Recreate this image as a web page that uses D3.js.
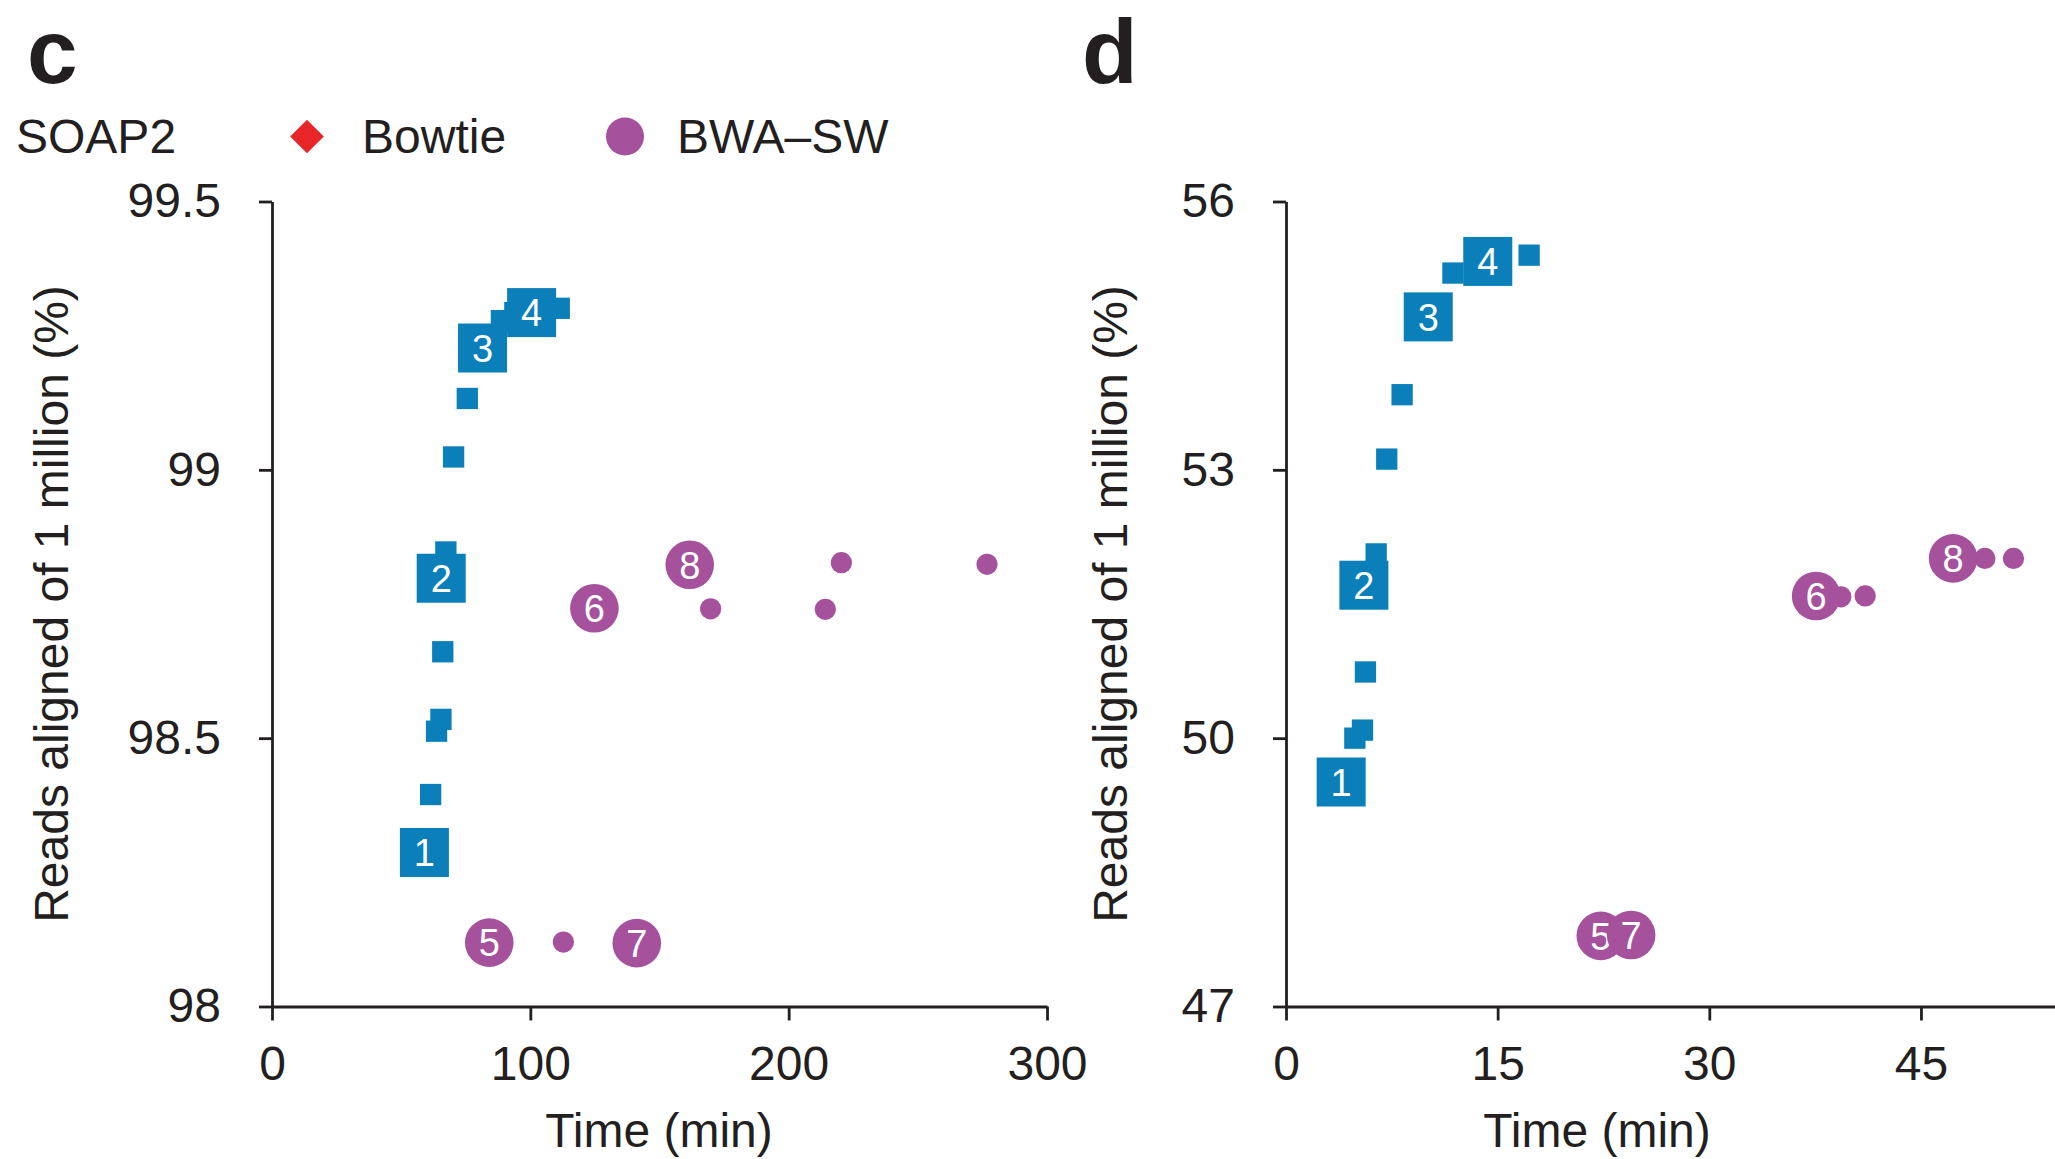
<!DOCTYPE html>
<html>
<head>
<meta charset="utf-8">
<script src="https://cdn.jsdelivr.net/npm/d3@7"></script>
<style>
  html, body { margin: 0; padding: 0; background: #fff; }
  svg { display: block; font-family: "Liberation Sans", Arial, Helvetica, sans-serif; }
</style>
</head>
<body>
<svg id="chart" width="2055" height="1159"></svg>
<script>
// ---- Panel c: reads aligned (%) vs. run time (min) ----
const cSoapTime = [59.0, 61.4, 63.7, 65.4, 66.1, 65.5, 67.3, 70.3, 75.6, 81.5, 88.8, 94.0, 100.5, 111.2];
const cSoapPct  = [98.287, 98.395, 98.513, 98.535, 98.661, 98.798, 98.847, 99.024, 99.133, 99.227, 99.278, 99.293, 99.293, 99.301];
const cSoapTag  = ["1", "", "", "", "", "2", "", "", "", "3", "", "", "4", ""];

const cBwaTime = [84.1, 112.8, 141.2, 124.8, 161.7, 169.8, 220.4, 214.2, 276.8];
const cBwaPct  = [98.119, 98.120, 98.118, 98.742, 98.823, 98.741, 98.827, 98.740, 98.824];
const cBwaTag  = ["5", "", "7", "6", "8", "", "", "", ""];

const cXTicks = [0, 100, 200, 300];
const cYTicks = [98, 98.5, 99, 99.5];
const cYTickLabels = ["98", "98.5", "99", "99.5"];

// ---- Panel d ----
const dSoapTime = [3.91, 4.88, 5.42, 5.63, 5.52, 6.39, 7.14, 8.23, 10.08, 11.83, 14.30, 17.23];
const dSoapPct  = [49.51, 50.00, 50.09, 50.74, 51.71, 52.06, 53.12, 53.84, 54.71, 55.20, 55.33, 55.40];
const dSoapTag  = ["1", "", "", "", "2", "", "", "", "3", "", "4", ""];

const dBwaTime = [22.31, 24.46, 37.57, 39.32, 41.05, 47.28, 49.53, 51.56];
const dBwaPct  = [47.79, 47.80, 51.59, 51.58, 51.59, 52.01, 52.01, 52.01];
const dBwaTag  = ["5", "7", "6", "", "", "8", "", ""];

const dXTicks = [0, 15, 30, 45];
const dYTicks = [47, 50, 53, 56];
const dYTickLabels = ["47", "50", "53", "56"];

// ---- Legend ----
const legendNames = ["SOAP2", "Bowtie", "BWA\u2013SW"];

// ---- Styling ----
const BLUE = "#0a7fb9";
const PURPLE = "#a5519b";
const RED = "#e8262a";
const INK = "#231f20";
const FONT = 48;
const BIG_SQ = 49, SMALL_SQ = 21.3;
const BIG_R = 24.3, SMALL_R = 10.6;

const svg = d3.select("#chart");

function drawPanel(cfg) {
  const x = d3.scaleLinear().domain(cfg.xDomain).range(cfg.xRange);
  const y = d3.scaleLinear().domain(cfg.yDomain).range([1006.5, 201.5]);
  const g = svg.append("g");

  // y axis
  const ya = g.append("g")
    .attr("transform", `translate(${cfg.xRange[0]},0)`)
    .call(d3.axisLeft(y).tickValues(cfg.yTicks)
      .tickFormat((d, i) => cfg.yTickLabels[i])
      .tickSize(13).tickPadding(38).tickSizeOuter(0));
  // x axis
  const xa = g.append("g")
    .attr("transform", `translate(0,${y(cfg.yDomain[0])})`)
    .call(d3.axisBottom(x).tickValues(cfg.xTicks)
      .tickFormat(d3.format("d"))
      .tickSize(14).tickSizeOuter(0));
  xa.selectAll(".tick text").attr("y", 73.5).attr("dy", null);

  [ya, xa].forEach(a => {
    a.selectAll("path, line").attr("stroke", INK).attr("stroke-width", 2.8);
    a.selectAll("text").attr("font-size", FONT).attr("fill", INK)
      .attr("font-family", "'Liberation Sans', Arial, sans-serif");
  });

  // axis titles
  g.append("text")
    .attr("transform", `translate(${cfg.yTitleX},${(y.range()[0] + y.range()[1]) / 2}) rotate(-90)`)
    .attr("text-anchor", "middle").attr("font-size", FONT).attr("fill", INK)
    .text("Reads aligned of 1 million (%)");
  g.append("text")
    .attr("x", cfg.xTitleX).attr("y", 1147)
    .attr("text-anchor", "middle").attr("font-size", FONT).attr("fill", INK)
    .text("Time (min)");

  // panel letter
  g.append("text")
    .attr("x", cfg.letterX).attr("y", 83)
    .attr("font-size", 91).attr("font-weight", "bold").attr("fill", INK)
    .text(cfg.letter);

  // SOAP2 squares: untagged first, tagged on top
  const soap = cfg.soapTime.map((t, i) => ({ t, v: cfg.soapPct[i], tag: cfg.soapTag[i] }));
  const soapOrdered = soap.filter(d => !d.tag).concat(soap.filter(d => d.tag));
  const sq = g.append("g").selectAll("g").data(soapOrdered).join("g")
    .attr("transform", d => `translate(${x(d.t)},${y(d.v)})`);
  sq.append("rect")
    .attr("x", d => -(d.tag ? BIG_SQ : SMALL_SQ) / 2)
    .attr("y", d => -(d.tag ? BIG_SQ : SMALL_SQ) / 2)
    .attr("width", d => d.tag ? BIG_SQ : SMALL_SQ)
    .attr("height", d => d.tag ? BIG_SQ : SMALL_SQ)
    .attr("fill", BLUE);
  sq.filter(d => d.tag).append("text")
    .attr("text-anchor", "middle").attr("dy", "0.36em")
    .attr("font-size", 38).attr("fill", "#fff")
    .text(d => d.tag);

  // BWA-SW circles
  const bwa = cfg.bwaTime.map((t, i) => ({ t, v: cfg.bwaPct[i], tag: cfg.bwaTag[i] }));
  const bwaOrdered = bwa.filter(d => !d.tag).concat(bwa.filter(d => d.tag));
  const ci = g.append("g").selectAll("g").data(bwaOrdered).join("g")
    .attr("transform", d => `translate(${x(d.t)},${y(d.v)})`);
  ci.append("circle")
    .attr("r", d => d.tag ? BIG_R : SMALL_R)
    .attr("fill", PURPLE);
  ci.filter(d => d.tag).append("text")
    .attr("text-anchor", "middle").attr("dy", "0.36em")
    .attr("font-size", 38).attr("fill", "#fff")
    .text(d => d.tag);
}

drawPanel({
  letter: "c", letterX: 27,
  xDomain: [0, 300], xRange: [272, 1047],
  yDomain: [98, 99.5], yTicks: cYTicks, yTickLabels: cYTickLabels,
  xTicks: cXTicks, yTitleX: 68, xTitleX: 659,
  soapTime: cSoapTime, soapPct: cSoapPct, soapTag: cSoapTag,
  bwaTime: cBwaTime, bwaPct: cBwaPct, bwaTag: cBwaTag
});

drawPanel({
  letter: "d", letterX: 1082,
  xDomain: [0, 54.5], xRange: [1286, 2055],
  yDomain: [47, 56], yTicks: dYTicks, yTickLabels: dYTickLabels,
  xTicks: dXTicks, yTitleX: 1127, xTitleX: 1597,
  soapTime: dSoapTime, soapPct: dSoapPct, soapTag: dSoapTag,
  bwaTime: dBwaTime, bwaPct: dBwaPct, bwaTag: dBwaTag
});

// legend row
const lg = svg.append("g").attr("font-size", FONT).attr("fill", INK);
lg.append("text").attr("x", 16).attr("y", 153).text(legendNames[0]);
lg.append("path")
  .attr("d", d3.symbol(d3.symbolDiamond2, 2 * 19 * 19)())
  .attr("transform", "translate(307,136.5)")
  .attr("fill", RED);
lg.append("text").attr("x", 362).attr("y", 153).text(legendNames[1]);
lg.append("circle").attr("cx", 625).attr("cy", 136.5).attr("r", 19).attr("fill", PURPLE);
lg.append("text").attr("x", 677).attr("y", 153).text(legendNames[2]);
</script>
</body>
</html>
